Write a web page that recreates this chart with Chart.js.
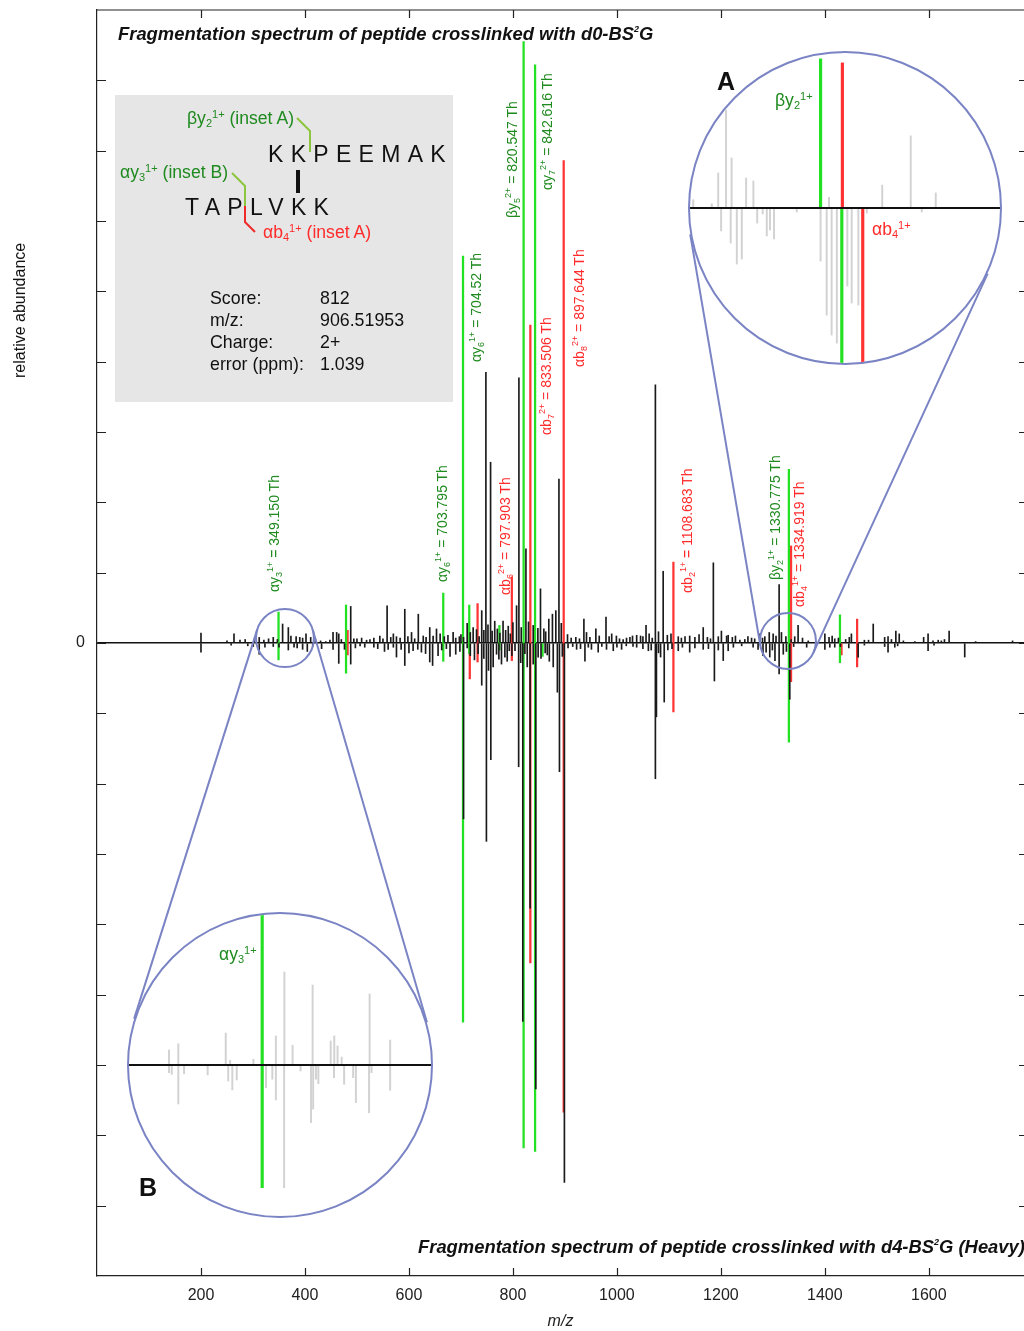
<!DOCTYPE html>
<html>
<head>
<meta charset="utf-8">
<script src="https://cdn.jsdelivr.net/npm/chart.js@4.4.0/dist/chart.umd.min.js"></script>
<style>
  body { margin: 0; background: #fff; font-family: "Liberation Sans", Arial, sans-serif; }
  #wrap { position: relative; width: 1024px; height: 1331px; overflow: hidden; }
  #main { position: absolute; left: 0; top: 0; }
  .abs { position: absolute; white-space: nowrap; }
  .rot { transform-origin: 0 0; transform: rotate(-90deg); font-size: 14px; line-height: 16px; }
  .g { color: #1f8a1f; }
  .r { color: #ff2b2b; }
  sub { font-size: 9px; vertical-align: -3px; line-height: 0; }
  sup { font-size: 9px; vertical-align: 6px; line-height: 0; }
  .big sub, .big sup { font-size: 11px; }
  .title { font-weight: bold; font-style: italic; font-size: 18.4px; line-height: 20px; color: #111; }
  .title sup { font-size: 9px; vertical-align: 8px; }
  .box { position: absolute; left: 115px; top: 95px; width: 338px; height: 307px; background: #e6e6e6; }
  .pep { font-size: 23px; line-height: 26px; letter-spacing: 7.3px; color: #111; }
  .big { font-size: 17.6px; line-height: 20px; }
  .score { font-size: 17.8px; line-height: 22px; color: #111; }
  .inset { position: absolute; border-radius: 50%; overflow: hidden; border: 2px solid #7a84c4;
           background: #fff; box-sizing: border-box; }
  .inset canvas { position: absolute; left: 0; top: 0; }
  .letter { font-weight: bold; font-size: 25px; line-height: 28px; color: #111; }
</style>
</head>
<body>
<div id="wrap">
  <canvas id="main" width="1024" height="1331"></canvas>
</div>
<script>
// light (d0) spectrum, drawn upwards
const lightMz = [200, 263.5, 275, 302.5, 312, 321, 339, 357, 368, 373, 390, 395.5, 402, 411, 430, 440, 454, 461, 465,
  488, 494, 509, 518.5, 532.5, 544, 558, 570, 576, 592, 605, 618, 627.5, 640, 646.5, 653, 660, 685, 697, 712, 723.5,
  740, 748, 757, 765, 781, 791, 807, 811.5, 825, 839, 853, 859.5, 869, 876, 882.5, 888.5, 921, 936.5, 941.5, 959.5,
  979, 990, 999, 1018.5, 1030, 1038, 1045.5, 1056, 1062, 1074, 1089, 1118, 1140, 1166, 1185.5, 1195, 1201, 1211,
  1214, 1236.5, 1259, 1275, 1284.5, 1293, 1300.5, 1312, 1316.5, 1325, 1342, 1348.5, 1368, 1400, 1419, 1451, 1493,
  1521.5, 1536.5, 1543, 1573, 1598.5, 1608, 1624, 1639, 1761,
  250, 285, 330, 347, 383, 420, 448, 470, 500, 525, 550, 565, 583, 598, 611, 633, 668, 675, 690, 700, 705, 718, 730,
  735, 744, 752, 760, 770, 775, 786, 795, 800, 816, 830, 848, 863, 893, 905, 912, 928, 948, 966, 985, 1005, 1012,
  1025, 1050, 1068, 1080, 1097, 1104, 1124, 1131, 1150, 1158, 1174, 1180, 1222, 1228, 1246, 1252, 1265, 1280, 1306,
  1335, 1357, 1408, 1414, 1426, 1440, 1447, 1476, 1484, 1515, 1528, 1551, 1590, 1618, 1630, 1690];
const lightInt = [1.4, 1.3, 0.4, 0.6, 0.8, 0.4, 0.8, 2.7, 2.2, 1.0, 0.8, 0.7, 1.3, 0.8, 0.3, 0.2, 1.5, 1.5, 1.3,
  5.2, 0.6, 0.7, 0.4, 0.7, 1.0, 5.3, 1.3, 0.9, 4.8, 1.5, 4.1, 1.0, 2.2, 1.0, 2.0, 1.3, 1.5, 0.9, 2.8, 2.2,
  4.6, 38.5, 25.7, 3.1, 3.1, 2.4, 5.3, 37.7, 13.4, 2.5, 7.7, 2.0, 3.4, 4.1, 4.6, 23.3, 0.8, 3.4, 1.5, 2.0,
  3.7, 1.3, 1.0, 0.7, 1.0, 1.1, 1.0, 2.5, 1.3, 36.7, 10.2, 0.9, 1.0, 2.2, 11.4, 0.9, 1.7, 1.0,
  1.1, 0.4, 0.7, 1.3, 0.9, 1.5, 1.3, 8.3, 1.5, 0.9, 0.9, 2.5, 0.3, 1.3, 0.6, 1.3, 2.7,
  0.9, 1.7, 1.3, 0.2, 1.3, 0.3, 0.3, 1.7, 0.3,
  0.3, 0.5, 0.6, 0.5, 0.9, 0.6, 0.4, 0.5, 0.6, 0.5, 0.6, 0.8, 0.7, 0.9, 0.6, 0.8, 0.9, 1.1, 0.7, 1.2, 0.8, 1.5, 1.9,
  0.9, 1.8, 2.6, 1.7, 2.0, 1.4, 1.8, 1.3, 2.9, 2.2, 3.0, 2.1, 1.6, 2.8, 1.2, 0.7, 0.6, 0.8, 1.0, 0.9, 0.6, 0.5,
  0.8, 0.9, 0.7, 1.6, 1.1, 1.3, 0.7, 0.9, 0.8, 1.2, 0.8, 0.6, 0.8, 1.0, 0.5, 0.9, 0.6, 0.7, 1.0,
  0.5, 0.7, 0.8, 1.0, 0.7, 0.5, 0.8, 0.4, 0.4, 0.8, 0.5, 0.3, 0.8, 0.4, 0.5, 0.2];

// heavy (d4) spectrum, drawn downwards
const heavyMz = [200, 300.5, 312, 323, 339, 368, 379, 395.5, 404.5, 454, 465, 488, 506, 532.5, 560, 570, 576, 592,
  608, 624, 640, 645.5, 656, 679, 690, 705, 712, 740, 749, 757.5, 762, 768.5, 778, 784.5, 793, 804, 811, 819, 827.5,
  833, 839, 844, 848.5, 870, 877.5, 885.5, 889.5, 899, 922.5, 938.5, 951, 964, 980, 993, 1009, 1038, 1060.5, 1074,
  1076, 1084, 1091, 1118, 1140, 1166, 1187.5, 1204.5, 1214, 1271.5, 1281, 1294, 1304, 1312, 1320, 1332.5, 1365,
  1400, 1409.5, 1419, 1464, 1521.5, 1534.5, 1598.5, 1669,
  258, 290, 350, 385, 415, 432, 476, 497, 515, 540, 553, 585, 600, 617, 632, 663, 672, 698, 718, 726, 733, 744, 753,
  773, 789, 798, 815, 823, 854, 862, 866, 895, 906, 915, 930, 945, 971, 1000, 1018, 1031, 1050, 1066, 1080, 1098,
  1106, 1126, 1150, 1176, 1195, 1224, 1240, 1262, 1287, 1299, 1326, 1340, 1430, 1446, 1476, 1515, 1540, 1610];
const heavyInt = [-1.3, -0.5, -1.6, -0.6, -0.5, -1.0, -0.6, -0.9, -1.2, -0.9, -2.9, -3.0, -0.4, -0.6, -0.9, -0.6, -2.0, -3.2,
  -1.1, -1.3, -2.7, -3.2, -1.8, -1.9, -1.6, -25, -0.7, -6.0, -28.2, -16.6, -3.4, -1.6, -3.0, -2.0, -1.1, -1.1, -17.6, -53.8, -3.4,
  -37.7, -3.0, -63.4, -2.0, -2.6, -3.4, -7.0, -18.3, -76.7, -0.9, -2.6, -0.9, -1.3, -0.9, -1.1, -0.9, -0.6, -1.1, -19.3,
  -10.5, -2.0, -8.4, -1.1, -1.3, -0.9, -5.4, -2.5, -1.1, -0.9, -1.8, -2.0, -2.5, -4.4, -1.6, -8.0, -0.6,
  -0.9, -0.6, -0.6, -2.0, -1.3, -0.6, -1.1, -2.0,
  -0.3, -0.4, -0.6, -0.7, -0.5, -0.8, -0.9, -0.7, -0.6, -0.8, -1.2, -0.9, -1.4, -0.9, -1.5, -1.0, -0.8, -1.2, -1.8, -2.4, -1.5, -2.2, -3.9,
  -2.3, -2.6, -1.8, -2.8, -1.5, -2.2, -1.4, -1.7, -1.9, -0.7, -0.5, -0.8, -0.6, -0.5, -0.6, -0.4, -0.5, -0.8, -1.0, -1.4, -1.0,
  -0.8, -0.6, -0.7, -0.8, -1.0, -0.6, -0.4, -0.6, -1.3, -1.0, -1.2, -0.5, -0.5, -0.7, -0.3, -0.5, -0.4, -0.3];

// matched alpha/beta y ions (green): light height up, heavy height down
const greenMz = [349.15, 479, 666, 704, 716, 774, 820.55, 842.62, 857, 1330.78, 1429];
const greenUp = [4.4, 5.4, 7.1, 55, 5.4, 2.5, 85.5, 82.2, 0, 24.7, 4.0];
const greenDown = [-2.4, -4.3, -2.6, -53.9, -1.5, -1.0, -71.8, -72.3, -1.9, -14.1, -2.8];

// matched b ions (red)
const redMz = [482, 717, 732, 797.9, 833.51, 897.64, 1108.68, 1334.92, 1432, 1462];
const redUp = [1.8, 0, 5.6, 9.4, 45.2, 68.6, 11.5, 13.8, 0, 3.4];
const redDown = [-1.7, -5.1, -2.7, -2.5, -45.5, -66.7, -9.8, -5.5, -1.7, -3.4];

const xTickLabels = [200, 400, 600, 800, 1000, 1200, 1400, 1600];
const yTickLabels = [-80, -70, -60, -50, -40, -30, -20, -10, 0, 10, 20, 30, 40, 50, 60, 70, 80];

// inset A (zoom around 1330 Th)
const insetAMz = [1276.8, 1283.2, 1285.4, 1288.1, 1290.0, 1295.0, 1297.5, 1323.5, 1341.8, 1351.6, 1360.2,
  1286.4, 1289.7, 1291.8, 1293.5, 1298.8, 1300.7, 1302.1, 1303.2, 1304.6, 1312.4, 1320.6, 1322.7, 1324.4, 1326.2,
  1329.8, 1331.3, 1333.6, 1336.5, 1355.4];
const insetAInt = [5.3, 2.7, 22.3, 62.4, 31.8, 19.1, 17.2, 6.8, 14.6, 45.9, 9.6,
  -14.6, -22.3, -35.7, -32.5, -9.6, -3.8, -17.8, -14.0, -19.7, -2.5, -33.8, -68.2, -80.9, -86.0,
  -49.7, -60.5, -61.8, -3.2, -2.5];
const insetAGreenMz = [1320.6, 1327.9];
const insetAGreenInt = [95, -105];
const insetARedMz = [1328.1, 1335.1];
const insetARedInt = [92.4, -98.7];

// inset B (zoom around 349 Th)
const insetBMz = [321.0, 324.4, 341.7, 343.3, 351.8, 360.0, 363.1, 366.1, 373.4, 380.0, 381.3, 382.5, 384.0, 394.2, 401.7,
  321.0, 322.0, 324.4, 326.5, 335.1, 342.6, 344.1, 345.7, 356.4, 358.7, 360.0, 363.0, 369.0, 372.8, 373.6, 374.6,
  375.5, 381.2, 384.9, 388.2, 389.2, 394.0, 394.9, 401.7];
const insetBInt = [9.8, 13.9, 20.9, 3.1, 3.7, 19.0, 60.8, 12.9, 52.3, 15.7, 19.0, 12.4, 5.2, 46.4, 16.3,
  -5.0, -6.1, -25.5, -5.7, -6.5, -10.5, -16.3, -9.8, -14.8, -9.3, -22.9, -80.2, -3.9, -37.7, -28.8, -9.3,
  -12.2, -8.3, -12.6, -8.3, -24.6, -31.2, -5.0, -16.5];
const insetBGreenMz = [355.0, 355.0];
const insetBGreenInt = [99, -80.2];

Chart.defaults.font.family = '"Liberation Sans", Arial, sans-serif';

const sticks = (mz, v) => mz.map((m, i) => ({ x: m, y: v[i] >= 0 ? [0, v[i]] : [v[i], 0] }));
const spans = (mz, up, down) => mz.map((m, i) => ({ x: m, y: [down[i], up[i]] }));

function barSet(data, color, w) {
  return { type: 'bar', data, backgroundColor: color, borderWidth: 0, barThickness: w, grouped: false };
}

// layout of the magnified circles (page pixels)
const bigA = { cx: 845, cy: 208, r: 157 };
const bigB = { cx: 280, cy: 1065, r: 153 };
const smallA = { mz: 1329, v: 0.3, r: 28 };
const smallB = { mz: 361.5, v: 0.7, r: 29 };

function tangents(c1, r1, c2, r2) {
  const dx = c2.x - c1.x, dy = c2.y - c1.y, D = Math.hypot(dx, dy);
  const ux = dx / D, uy = dy / D, c = (r1 - r2) / D, s = Math.sqrt(1 - c * c);
  return [1, -1].map(k => {
    const nx = ux * c - k * uy * s, ny = uy * c + k * ux * s;
    return [c1.x + r1 * nx, c1.y + r1 * ny, c2.x + r2 * nx, c2.y + r2 * ny];
  });
}

const frame = {
  id: 'frame',
  afterDraw(chart) {
    const { ctx, chartArea: a, scales: { x, y } } = chart;
    ctx.save();
    ctx.strokeStyle = '#222';
    ctx.lineWidth = 1.2;
    ctx.beginPath();
    ctx.moveTo(a.left, a.top); ctx.lineTo(a.right, a.top);
    x.ticks.forEach(t => {
      const px = Math.round(x.getPixelForValue(t.value)) + 0.5;
      ctx.moveTo(px, a.bottom); ctx.lineTo(px, a.bottom - 8);
      ctx.moveTo(px, a.top); ctx.lineTo(px, a.top + 8);
    });
    y.ticks.forEach(t => {
      const py = Math.round(y.getPixelForValue(t.value)) + 0.5;
      ctx.moveTo(a.left, py); ctx.lineTo(a.left + 9, py);
      ctx.moveTo(a.right, py); ctx.lineTo(a.right - 5, py);
    });
    ctx.stroke();

    ctx.strokeStyle = '#7a84c4';
    ctx.lineWidth = 2;
    [[smallA, bigA], [smallB, bigB]].forEach(([s, b]) => {
      const c1 = { x: x.getPixelForValue(s.mz), y: y.getPixelForValue(s.v) };
      ctx.beginPath();
      ctx.arc(c1.x, c1.y, s.r, 0, Math.PI * 2);
      ctx.stroke();
      tangents(c1, s.r, { x: b.cx, y: b.cy }, b.r).forEach(l => {
        ctx.beginPath();
        ctx.moveTo(l[0], l[1]); ctx.lineTo(l[2], l[3]);
        ctx.stroke();
      });
    });
    ctx.restore();
  }
};

new Chart(document.getElementById('main'), {
  type: 'bar',
  data: {
    datasets: [
      barSet(sticks(lightMz, lightInt), '#1a1a1a', 1),
      barSet(sticks(heavyMz, heavyInt), '#1a1a1a', 1),
      barSet(spans(greenMz, greenUp, greenDown), '#22e022', 1.6),
      barSet(spans(redMz, redUp, redDown), '#ff3535', 1.6)
    ]
  },
  options: {
    responsive: false,
    animation: false,
    devicePixelRatio: 1,
    layout: { padding: { top: 10, right: 0, bottom: 0, left: 0 } },
    plugins: { legend: { display: false }, tooltip: { enabled: false } },
    scales: {
      x: {
        type: 'linear', min: 0, max: 1783, offset: false,
        afterBuildTicks: s => { s.ticks = xTickLabels.map(v => ({ value: v })); },
        afterFit: s => { s.height = 55; s.paddingLeft = 0; s.paddingRight = 0; },
        ticks: { font: { size: 16 }, color: '#222', padding: 10, maxRotation: 0, callback: v => String(v) },
        grid: { drawOnChartArea: false, drawTicks: false, offset: false },
        border: { display: true, color: '#222', width: 1.2 },
        title: { display: true, text: 'm/z', font: { size: 16, style: 'italic' }, color: '#222', padding: { top: 0, bottom: 0 } }
      },
      y: {
        min: -90, max: 90,
        afterBuildTicks: s => { s.ticks = yTickLabels.map(v => ({ value: v })); },
        afterFit: s => { s.width = 97; s.paddingTop = 0; s.paddingBottom = 0; },
        ticks: { font: { size: 16 }, color: '#222', padding: 12, callback: v => (v === 0 ? '0' : '') },
        grid: {
          drawTicks: false,
          color: c => (c.tick && c.tick.value === 0 ? '#111' : 'rgba(0,0,0,0)'),
          lineWidth: 1.4
        },
        border: { display: true, color: '#222', width: 1.2 }
      }
    }
  },
  plugins: [frame]
});

// magnified insets, each its own small chart clipped to a circle
const axisLine = {
  id: 'axisLine',
  afterDatasetsDraw(chart) {
    const { ctx, chartArea: a, scales: { y } } = chart;
    const py = y.getPixelForValue(0);
    ctx.save();
    ctx.strokeStyle = '#111';
    ctx.lineWidth = 2;
    ctx.beginPath(); ctx.moveTo(a.left, py); ctx.lineTo(a.right, py); ctx.stroke();
    ctx.restore();
  }
};

function inset(big, xmin, xmax, datasets) {
  const d = document.createElement('div');
  d.className = 'inset';
  const size = big.r * 2;
  d.style.left = (big.cx - big.r) + 'px';
  d.style.top = (big.cy - big.r) + 'px';
  d.style.width = size + 'px';
  d.style.height = size + 'px';
  const cv = document.createElement('canvas');
  cv.width = size - 4; cv.height = size - 4;
  d.appendChild(cv);
  document.getElementById('wrap').appendChild(d);
  new Chart(cv, {
    type: 'bar',
    data: { datasets },
    options: {
      responsive: false, animation: false, devicePixelRatio: 1,
      layout: { padding: 0 },
      plugins: { legend: { display: false }, tooltip: { enabled: false } },
      scales: {
        x: { type: 'linear', min: xmin, max: xmax, offset: false, display: false },
        y: { min: -98.7, max: 98.7, display: false }
      }
    },
    plugins: [axisLine]
  });
}

inset(bigA, 1275.7, 1382.3, [
  barSet(sticks(insetAMz, insetAInt), '#d2d2d2', 1.3),
  barSet(sticks(insetAGreenMz, insetAGreenInt), '#22e022', 2.5),
  barSet(sticks(insetARedMz, insetARedInt), '#ff3030', 2.5)
]);
inset(bigB, 306.4, 416.6, [
  barSet(sticks(insetBMz, insetBInt), '#d2d2d2', 1.3),
  barSet(sticks(insetBGreenMz, insetBGreenInt), '#22e022', 2.5)
]);

// text overlays
const wrap = document.getElementById('wrap');
function addText(html, cls, left, top) {
  const d = document.createElement('div');
  d.className = 'abs ' + cls;
  d.style.left = left + 'px';
  d.style.top = top + 'px';
  d.innerHTML = html;
  wrap.appendChild(d);
  return d;
}

const ionLabels = [
  ['αy<sub>3</sub><sup>1+</sup> = 349.150 Th', 'g', 274, 592],
  ['αy<sub>6</sub><sup>1+</sup> = 703.795 Th', 'g', 442, 582],
  ['αy<sub>6</sub><sup>1+</sup> = 704.52 Th', 'g', 476, 362],
  ['βy<sub>5</sub><sup>2+</sup> = 820.547 Th', 'g', 512, 218],
  ['αy<sub>7</sub><sup>2+</sup> = 842.616 Th', 'g', 547, 190],
  ['αb<sub>7</sub><sup>2+</sup> = 833.506 Th', 'r', 546, 435],
  ['αb<sub>8</sub><sup>2+</sup> = 897.644 Th', 'r', 579, 367],
  ['αb<sub>6</sub><sup>2+</sup> = 797.903 Th', 'r', 505, 595],
  ['αb<sub>2</sub><sup>1+</sup> = 1108.683 Th', 'r', 687, 593],
  ['βy<sub>2</sub><sup>1+</sup> = 1330.775 Th', 'g', 775, 580],
  ['αb<sub>4</sub><sup>1+</sup> = 1334.919 Th', 'r', 799, 607]
];
ionLabels.forEach(([html, c, cx, bottom]) => addText(html, 'rot ' + c, cx - 8, bottom));

addText('relative abundance', 'rot', 11, 378).style.cssText += 'font-size:16px;line-height:18px;color:#111;';

addText('Fragmentation spectrum of peptide crosslinked with d0-BS<sup>2</sup>G', 'title', 118, 24);
addText('Fragmentation spectrum of peptide crosslinked with d4-BS<sup>2</sup>G (Heavy)', 'title', 418, 1237);

const box = document.createElement('div');
box.className = 'box';
wrap.appendChild(box);
addText('βy<sub>2</sub><sup>1+</sup> (inset A)', 'big g', 187, 108);
addText('αy<sub>3</sub><sup>1+</sup> (inset B)', 'big g', 120, 162);
addText('αb<sub>4</sub><sup>1+</sup> (inset A)', 'big r', 263, 222);
addText('KKPEEMAK', 'pep', 268, 141);
addText('TAPLVKK', 'pep', 185, 194);
const bar = addText('', '', 296, 170);
bar.style.cssText += 'width:4px;height:23px;background:#111;';
addText('Score:<br>m/z:<br>Charge:<br>error (ppm):', 'score', 210, 287);
addText('812<br>906.51953<br>2+<br>1.039', 'score', 320, 287);

const svgNS = 'http://www.w3.org/2000/svg';
const svg = document.createElementNS(svgNS, 'svg');
svg.setAttribute('width', 1024); svg.setAttribute('height', 1331);
svg.style.cssText = 'position:absolute;left:0;top:0;pointer-events:none;';
[['297,118 310,131 310,152', '#8cc63f'], ['232,173 245,186 245,206', '#8cc63f'], ['245,206 245,222 255,232', '#ee2a2a']]
  .forEach(([pts, col]) => {
    const p = document.createElementNS(svgNS, 'polyline');
    p.setAttribute('points', pts);
    p.setAttribute('fill', 'none');
    p.setAttribute('stroke', col);
    p.setAttribute('stroke-width', 2);
    svg.appendChild(p);
  });
wrap.appendChild(svg);

addText('βy<sub>2</sub><sup>1+</sup>', 'big g', 775, 90);
addText('αb<sub>4</sub><sup>1+</sup>', 'big r', 872, 219);
addText('αy<sub>3</sub><sup>1+</sup>', 'big g', 219, 944);
addText('A', 'letter', 717, 67);
addText('B', 'letter', 139, 1173);
</script>
</body>
</html>
